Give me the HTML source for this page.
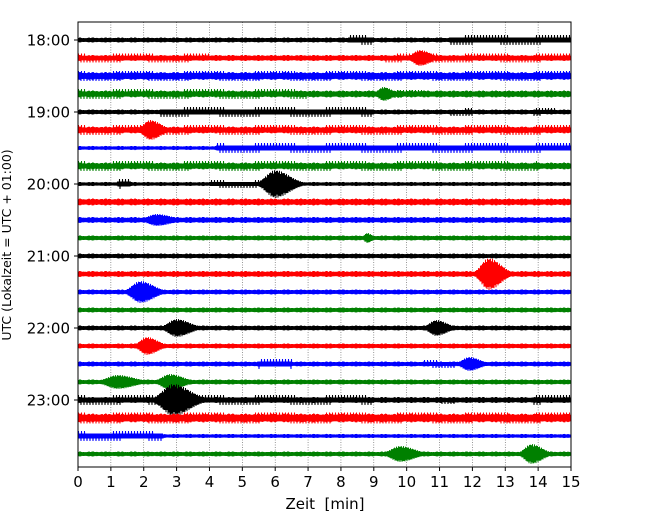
<!DOCTYPE html>
<html><head><meta charset="utf-8"><style>
body{margin:0;background:#fff;}
svg text{font-family:"DejaVu Sans","Liberation Sans",sans-serif;}
</style></head><body>
<svg id="c" width="650" height="520">
<rect x="0" y="0" width="650" height="520" fill="#fff"/>
<g id="grid"></g><g id="traces"></g><g id="axes"></g>
<text x="325" y="509" text-anchor="middle" font-size="15" xml:space="preserve" style="white-space:pre">Zeit  [min]</text>
<text transform="translate(11,245) rotate(-90)" text-anchor="middle" font-size="12.5">UTC (Lokalzeit = UTC + 01:00)</text>
</svg>
<script>
const xTicks=[0,1,2,3,4,5,6,7,8,9,10,11,12,13,14,15];
const yTickLabels=["18:00","19:00","20:00","21:00","22:00","23:00"];
const colors=["#000","#f00","#00f","#008000"];
const baseAmp=[2.5,3,4,3.5,2.5,3.5,2,3.5,2,3.5,3,2.5,2.5,3,2.5,2.5,2.5,2.5,2.5,2.5,3,4.5,2,2.5];
// spiky segments: [trace,start,end,amp]
const spiky=[[0,8.2,9,5],[0,11.3,15,5],[1,0,4,4.5],[1,9.3,15,4.5],[2,0,15,5],[3,0,7,5],[3,9.6,10.5,4],[4,2.5,9,5],[4,11.3,12,4],[4,13.8,14.5,4],[5,0,15,5],[6,4.2,15,5],[7,0,14,5],[8,1.2,1.6,5],[8,4,5.5,4],[20,0,4.5,5],[20,4.5,9,5],[20,11,11.5,4],[20,13.8,15,5],[21,0,15,5.5],[22,0,2.6,5],[18,5.5,6.5,5],[18,10.5,11.5,4]];
// events: [trace,time,amp,duration]
const events=[[1,10.4,8,0.45],[3,9.3,7,0.35],[5,2.2,10,0.45],[8,6.0,14,0.6],[10,2.4,6,0.6],[11,8.8,5,0.2],[13,12.5,16,0.5],[14,1.9,11,0.55],[16,3.0,9,0.55],[16,10.9,8,0.45],[17,2.1,9,0.45],[18,11.9,7,0.45],[19,1.2,7,0.7],[19,2.8,8,0.55],[20,2.9,16,0.7],[23,9.8,8,0.6],[23,13.8,10,0.45]];
const X0=78,X1=571,Y0=22,Y1=467,T0=40,DT=18;
const sx=t=>X0+(X1-X0)*t/15;
const sy=i=>T0+DT*i;
const NS="http://www.w3.org/2000/svg";
function mk(tag,attrs,parent){const e=document.createElementNS(NS,tag);for(const k in attrs)e.setAttribute(k,attrs[k]);parent.appendChild(e);return e;}
const grid=document.getElementById('grid'),tr=document.getElementById('traces'),ax=document.getElementById('axes');
xTicks.forEach(t=>{
  if(t>0&&t<15){const l=mk('line',{x1:sx(t),x2:sx(t),y1:Y0,y2:Y1,stroke:'#555','stroke-width':0.6,'stroke-dasharray':'1,1.5'},grid);
  
  }
  mk('line',{x1:sx(t),x2:sx(t),y1:Y1,y2:Y1+4,stroke:'#000'},ax);
  const tx=mk('text',{x:sx(t),y:Y1+20,'text-anchor':'middle','font-size':15},ax);tx.textContent=t;
  
  
});
yTickLabels.forEach((s,k)=>{
  const y=sy(k*4);
  mk('line',{x1:X0-4,x2:X0,y1:y,y2:y,stroke:'#000'},ax);
  const tx=mk('text',{x:X0-8,y:y+5.5,'text-anchor':'end','font-size':15},ax);tx.textContent=s;
  
  
});
for(let i=0;i<baseAmp.length;i++){
  const segs=spiky.filter(s=>s[0]===i),evs=events.filter(e=>e[0]===i);
  let pts=[];let k=0;
  for(let px=X0;px<=X1;px+=0.5,k++){
    const t=(px-X0)/(X1-X0)*15;
    let env=baseAmp[i]*(0.7+0.3*Math.abs(Math.sin(k*0.37)*Math.cos(k*0.113)));
    segs.forEach(s=>{if(t>=s[1]&&t<=s[2]){const f=(t/0.09)%1;const a=f<0.2?s[3]:s[3]*0.5;env=Math.max(env,a);}});
    evs.forEach(e=>{const d=(t-e[1])/e[3];const a=e[2]*Math.exp(-d*d*(d<0?2.5:1.0));env=Math.max(env,a*(0.75+0.25*Math.abs(Math.sin(k*0.9))));});
    const sgn=(k%2===0)?1:-1;
    pts.push(px.toFixed(1)+','+(sy(i)+sgn*env).toFixed(1));
  }
  const p=mk('polyline',{points:pts.join(' '),fill:'none',stroke:colors[i%4],'stroke-width':1},tr);
  
  
}
const fr=mk('rect',{x:X0,y:Y0,width:X1-X0,height:Y1-Y0,fill:'none',stroke:'#000','stroke-width':1},ax);


</script>
</body></html>
